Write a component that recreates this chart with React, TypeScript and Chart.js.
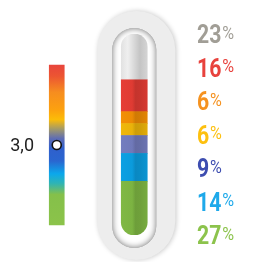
import { useEffect, useRef } from 'react';
import { Chart, registerables } from 'chart.js';

Chart.register(...registerables);

// ---- data ----
const categories = ['Scale', 'Tube'];
const seriesNames = ['Green', 'Blue', 'Purple', 'Yellow', 'Orange', 'Red', 'Empty'];
const seriesValues = [27, 14, 9, 6, 6, 16, 23];
const seriesColors = ['#7cb342', '#0b9bdc', '#7079b9', '#e9b20a', '#ec8b05', '#df3b33', '#d6d6d6'];
const percentValues = [23, 16, 6, 6, 9, 14, 27];
const percentColors = ['#a19e96', '#e8423d', '#f59220', '#fdc00f', '#3d4db0', '#1ea9ea', '#8cc34c'];
const scaleRange = [0, 6];
const markerValue = 3;
const gradientStops = [0, 0.07, 0.17, 0.28, 0.34, 0.4, 0.46, 0.52, 0.6, 0.68, 0.74, 0.81, 1];
const gradientColors = ['#e8453c', '#ec5532', '#f68d1f', '#fca10f', '#fcbc08', '#a39a68', '#5e6cb4', '#2f5fcc', '#2a66d0', '#0ba8ec', '#2fb4b4', '#85c04a', '#8bc34a'];

const percentLabels = percentValues.map((v) => `${v}%`);

function shade(hex: string, f: number) {
  const n = parseInt(hex.slice(1), 16);
  const r = Math.min(255, Math.round(((n >> 16) & 255) * f));
  const g = Math.min(255, Math.round(((n >> 8) & 255) * f));
  const b = Math.min(255, Math.round((n & 255) * f));
  return `rgb(${r},${g},${b})`;
}

function cylinder(base: string, isGlass: boolean) {
  return (ctx: any) => {
    const chart = ctx.chart;
    const xs = chart.scales && chart.scales.x;
    if (!chart.chartArea || !xs) return base;
    const cx = xs.getPixelForValue(1);
    const g = chart.ctx.createLinearGradient(cx - 13, 0, cx + 13, 0);
    if (isGlass) {
      g.addColorStop(0, '#e2e2e2');
      g.addColorStop(0.25, '#efefef');
      g.addColorStop(0.5, '#d8d8d8');
      g.addColorStop(0.72, '#c4c4c4');
      g.addColorStop(1, '#d4d4d4');
    } else {
      g.addColorStop(0, shade(base, 1.03));
      g.addColorStop(0.42, base);
      g.addColorStop(0.55, shade(base, 0.88));
      g.addColorStop(0.75, shade(base, 0.9));
      g.addColorStop(1, shade(base, 0.96));
    }
    return g;
  };
}

function scaleGradient(ctx: any) {
  const chart = ctx.chart;
  const ys = chart.scales && chart.scales.y2;
  if (!chart.chartArea || !ys) return gradientColors[0];
  const g = chart.ctx.createLinearGradient(0, ys.getPixelForValue(scaleRange[1]), 0, ys.getPixelForValue(scaleRange[0]));
  gradientStops.forEach((s, i) => g.addColorStop(s, gradientColors[i]));
  return g;
}

function pill(ctx: CanvasRenderingContext2D, l: number, t: number, r: number, b: number) {
  const rad = (r - l) / 2;
  ctx.beginPath();
  ctx.moveTo(l, t + rad);
  ctx.arc(l + rad, t + rad, rad, Math.PI, 0);
  ctx.lineTo(r, b - rad);
  ctx.arc(l + rad, b - rad, rad, 0, Math.PI);
  ctx.closePath();
}

const tubePlugin = {
  id: 'tube',
  beforeDatasetsDraw(chart: any) {
    const { ctx, chartArea } = chart;
    const cx = chart.scales.x.getPixelForValue(1);
    const top = chartArea.top;
    const bottom = chartArea.bottom;
    ctx.save();
    // outer shell
    ctx.shadowColor = 'rgba(0,0,0,0.22)';
    ctx.shadowBlur = 5;
    ctx.shadowOffsetX = 1;
    pill(ctx, cx - 37, top - 23, cx + 41, bottom + 25);
    ctx.fillStyle = '#ededed';
    ctx.fill();
    ctx.restore();
    // inner hole
    ctx.save();
    pill(ctx, cx - 22, top - 6, cx + 22, bottom + 13);
    ctx.fillStyle = '#ffffff';
    ctx.fill();
    ctx.clip();
    ctx.shadowColor = 'rgba(0,0,0,0.55)';
    ctx.shadowBlur = 6;
    ctx.beginPath();
    ctx.rect(cx - 80, top - 80, 160, bottom - top + 200);
    ctx.moveTo(cx - 22, top - 6 + 22);
    ctx.arc(cx, top - 6 + 22, 22, Math.PI, 0);
    ctx.lineTo(cx + 22, bottom + 13 - 22);
    ctx.arc(cx, bottom + 13 - 22, 22, 0, Math.PI);
    ctx.closePath();
    ctx.fillStyle = '#888';
    ctx.fill('evenodd');
    ctx.restore();
  },
};

const labelPlugin = {
  id: 'labels',
  afterDatasetsDraw(chart: any) {
    const { ctx, chartArea } = chart;
    const yl = chart.scales.yl;
    const y2 = chart.scales.y2;
    ctx.save();
    percentLabels.forEach((lab, i) => {
      const yc = yl.getPixelForValue(i);
      const num = lab.replace('%', '');
      ctx.save();
      ctx.translate(chartArea.right + 24, yc + 9);
      ctx.scale(0.85, 1);
      ctx.fillStyle = percentColors[i];
      ctx.textBaseline = 'alphabetic';
      ctx.textAlign = 'left';
      ctx.font = 'bold 25px Roboto';
      ctx.fillText(num, 0, 0);
      const w = ctx.measureText(num).width;
      ctx.font = '19px Roboto';
      ctx.fillText('%', w + 1, -4.5);
      ctx.restore();
    });
    // marker value label
    const my = y2.getPixelForValue(markerValue);
    ctx.fillStyle = '#222';
    ctx.font = '18px Roboto';
    ctx.textAlign = 'right';
    ctx.textBaseline = 'middle';
    ctx.fillText(markerValue.toFixed(1).replace('.', ','), chartArea.left + 16, my + 1);
    ctx.restore();
  },
};

export default function App() {
  const ref = useRef<HTMLCanvasElement>(null);
  useEffect(() => {
    if (!ref.current) return;
    const last = seriesValues.length - 1;
    const chart = new Chart(ref.current, {
      type: 'bar',
      data: {
        labels: categories,
        datasets: [
          {
            label: 'Scale',
            data: [scaleRange as any, null],
            yAxisID: 'y2',
            barThickness: 15,
            backgroundColor: scaleGradient as any,
            borderSkipped: false,
            order: 2,
          } as any,
          ...seriesValues.map((v, i) => ({
            label: seriesNames[i],
            data: [null, v],
            yAxisID: 'y',
            barThickness: 26,
            backgroundColor: cylinder(seriesColors[i], i === last) as any,
            borderSkipped: false,
            borderRadius:
              i === 0
                ? { topLeft: 0, topRight: 0, bottomLeft: 13, bottomRight: 13 }
                : i === last
                ? { topLeft: 13, topRight: 13, bottomLeft: 0, bottomRight: 0 }
                : 0,
            order: 2,
          })),
          {
            type: 'line',
            label: 'Value',
            data: [markerValue, null],
            yAxisID: 'y2',
            showLine: false,
            pointRadius: 4.5,
            pointBackgroundColor: '#ffffff',
            pointBorderColor: '#111111',
            pointBorderWidth: 1.6,
            order: 0,
          } as any,
        ],
      },
      options: {
        animation: false,
        responsive: true,
        maintainAspectRatio: false,
        layout: { padding: { left: 18, right: 81, top: 34, bottom: 27 } },
        plugins: { legend: { display: false }, tooltip: { enabled: false } },
        scales: {
          x: { display: false, stacked: true, offset: true },
          y: { display: false, stacked: true, min: 0, max: 101 },
          y2: { display: false, min: -0.375, max: 7.1625 },
          yl: { type: 'category', labels: percentLabels, display: false, offset: false } as any,
        },
      },
      plugins: [tubePlugin, labelPlugin],
    });
    return () => chart.destroy();
  }, []);
  return (
    <div style={{ position: 'fixed', left: 0, top: 0, width: 254, height: 262, background: '#fff' }}>
      <canvas ref={ref} />
    </div>
  );
}
